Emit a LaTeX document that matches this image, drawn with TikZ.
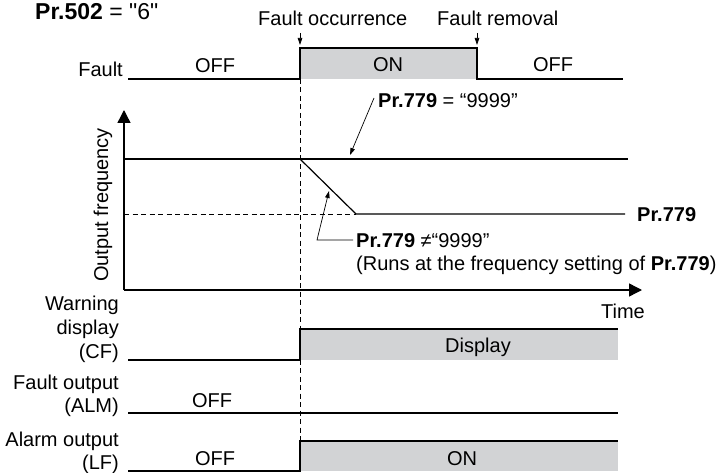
\documentclass[tikz,border=0pt]{standalone}
\usepackage{fontspec}
\setmainfont{Liberation Sans}[Ligatures=TeXOff]
\usetikzlibrary{arrows.meta}
\definecolor{boxgray}{RGB}{210,211,213}
\begin{document}
\begin{tikzpicture}[x=1pt,y=-1pt,
  txt/.style={font=\fontsize{20}{23}\selectfont, inner sep=0pt},
  sig/.style={line width=1.2pt, line join=miter},
  dsh/.style={line width=0.8pt, dash pattern=on 5pt off 3.5pt},
  lead/.style={line width=0.7pt, -{Triangle[length=7pt,width=4.5pt]}},
  axis/.style={line width=1.4pt, -{Triangle[length=13pt,width=13pt]}},
  shade/.style={fill=boxgray, draw=none}]
\useasboundingbox (0,0) rectangle (717,473);

% title
\node[txt, font=\fontsize{23}{26}\selectfont, anchor=base west] (title) at (35,20) {\textbf{Pr.502} = "6"};

% fault signal
\coordinate (f0) at (128,79);
\coordinate (f1) at (300,79);
\coordinate (f2) at (300,48);
\coordinate (f3) at (477,48);
\coordinate (f4) at (477,79);
\coordinate (f5) at (623,79);
\fill[shade] (f2) rectangle (f4);

% dashed vertical marker
\coordinate (d1) at (300,441);
\draw[dsh] (f1) -- (d1);

\draw[sig] (f0) -- (f1) -- (f2) -- (f3) -- (f4) -- (f5);

% event labels
\node[txt, anchor=base west] (occ) at (258,26) {Fault occurrence};
\node[txt, anchor=base west] (rem) at (437,26) {Fault removal};
\coordinate (a1s) at (300,33);
\coordinate (a1e) at (300,45);
\coordinate (a2s) at (477,33);
\coordinate (a2e) at (477,45);
\draw[lead] (a1s) -- (a1e);
\draw[lead] (a2s) -- (a2e);

\node[txt, anchor=base east] (lfault) at (123,77) {Fault};
\node[txt, anchor=base] (off1) at (215,73) {OFF};
\node[txt, anchor=base] (on1) at (388,72) {ON};
\node[txt, anchor=base] (off2) at (553,72) {OFF};

% axes
\coordinate (o) at (124,290);
\coordinate (ytop) at (124,110);
\coordinate (xend) at (642,290);
\draw[axis] (o) -- (ytop);
\draw[axis] (o) -- (xend);

% frequency curves
\coordinate (h0) at (124,159);
\coordinate (h1) at (628,159);
\coordinate (r0) at (300,159);
\coordinate (r1) at (356,214);
\coordinate (r2) at (625,214);
\coordinate (dl) at (124,214);
\draw[dsh] (dl) -- (r1);
\draw[sig] (h0) -- (h1);
\draw[sig] (r0) -- (r1) -- (r2);
\node[txt, anchor=base west] (p779) at (637,221) {\textbf{Pr.779}};

\node[txt, anchor=base west] (eq) at (378,108) {\textbf{Pr.779} = “9999”};
\coordinate (eqs) at (374,98);
\coordinate (eqt) at (350,155);
\draw[lead] (eqs) -- (eqt);

\node[txt, anchor=base west] (ne) at (356,247) {\textbf{Pr.779} ≠“9999”};
\node[txt, anchor=base west] (runs) at (356,270) {(Runs at the frequency setting of \textbf{Pr.779})};
\coordinate (nes) at (353,240);
\coordinate (neb) at (317,240);
\coordinate (net) at (329,191);
\draw[lead] (nes) -- (neb) -- (net);

\node[txt, anchor=base east] (time) at (645,318) {Time};
\node[txt, rotate=90] (ylab) at (103,205) {Output frequency};

% warning display
\node[txt, anchor=base east] (w1) at (119,310) {Warning};
\node[txt, anchor=base east] (w2) at (119,334) {display};
\node[txt, anchor=base east] (w3) at (119,358) {(CF)};
\coordinate (c0) at (128,360);
\coordinate (c1) at (300,360);
\coordinate (c2) at (300,329);
\coordinate (c3) at (618,329);
\coordinate (c4) at (618,360);
\fill[shade] (c2) rectangle (c4);
\draw[sig] (c0) -- (c1) -- (c2) -- (c3);
\node[txt, anchor=base] (disp) at (478,352) {Display};

% fault output
\node[txt, anchor=base east] (m1) at (119,389) {Fault output};
\node[txt, anchor=base east] (m2) at (119,412) {(ALM)};
\coordinate (m0) at (128,413);
\coordinate (me) at (618,413);
\draw[sig] (m0) -- (me);
\node[txt, anchor=base] (off3) at (212,407) {OFF};

% alarm output
\node[txt, anchor=base east] (l1) at (119,446) {Alarm output};
\node[txt, anchor=base east] (l2) at (119,469) {(LF)};
\coordinate (e0) at (128,471);
\coordinate (e1) at (300,471);
\coordinate (e2) at (300,441);
\coordinate (e3) at (618,441);
\coordinate (e4) at (618,471);
\fill[shade] (e2) rectangle (e4);
\draw[sig] (e0) -- (e1) -- (e2) -- (e3);
\node[txt, anchor=base] (off4) at (215,465) {OFF};
\node[txt, anchor=base] (on4) at (462,465) {ON};
\end{tikzpicture}
\end{document}
